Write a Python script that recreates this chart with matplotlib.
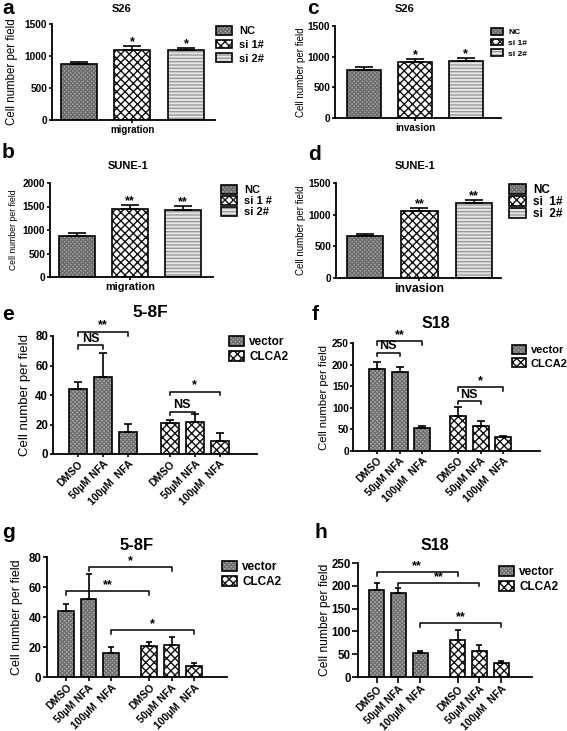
import numpy as np
import matplotlib
matplotlib.use('Agg')
import matplotlib.pyplot as plt

plt.rcParams['font.family'] = ['Liberation Sans', 'DejaVu Sans']
plt.rcParams['font.weight'] = 'bold'
plt.rcParams['hatch.linewidth'] = 1.0

# ---- data ----
a_groups = ['NC', 'si 1#', 'si 2#']
a_mean = [873, 1087, 1087]
a_err = [31, 63, 37]
a_sig = ['', '*', '*']
b_groups = ['NC', 'si 1 #', 'si 2#']
b_mean = [880, 1444, 1430]
b_err = [64, 84, 84]
b_sig = ['', '**', '**']
c_groups = ['NC', 'si 1#', 'si 2#']
c_mean = [785, 920, 937]
c_err = [54, 44, 38]
c_sig = ['', '*', '*']
d_groups = ['NC', 'si  1#', 'si  2#']
d_mean = [658, 1053, 1184]
d_err = [31, 52, 42]
d_sig = ['', '**', '**']

treat = ['DMSO', '50µM NFA', '100µM  NFA']
e_vec = [44, 52.4, 15.1]
e_vec_err = [5, 16.3, 5.2]
e_clca = [20.8, 21.9, 8.8]
e_clca_err = [2.2, 5.1, 5.6]
f_vec = [190, 184, 54]
f_vec_err = [16, 10, 3]
f_clca = [82, 58, 32]
f_clca_err = [20, 12, 2]
g_vec = [43.8, 51.8, 16]
g_vec_err = [5.1, 16.6, 4]
g_clca = [20.4, 21.6, 7.1]
g_clca_err = [2.7, 5.1, 2.5]
h_vec = [190, 185, 53]
h_vec_err = [17, 11, 3.6]
h_clca = [81, 57, 31]
h_clca_err = [22, 13, 3.6]

W, H = 567, 731
fig = plt.figure(figsize=(W / 100, H / 100), dpi=100)


def box(l, t, r, b):
    return fig.add_axes([l / W, 1 - b / H, (r - l) / W, (b - t) / H])


def ftext(x, y, s, **kw):
    fig.text(x / W, 1 - y / H, s, **kw)


NC = dict(color='#a4a4a4', edgecolor='#6c6c6c', hatch='xxxxxxxx')
SI1 = dict(color='white', edgecolor='#111111', hatch='xxxx')
SI2 = dict(color='#e6e6e6', edgecolor='#9a9a9a', hatch='-----')


def hbar(ax, x, v, w, st):
    b1 = ax.bar(x, v, w, linewidth=0, zorder=2, **st)
    b2 = ax.bar(x, v, w, fill=False, edgecolor='black', linewidth=1.2, zorder=3)
    return (b1, b2)


def style(ax, ymax, step, fs, tl):
    for s in ['top', 'right']:
        ax.spines[s].set_visible(False)
    for s in ['left', 'bottom']:
        ax.spines[s].set_linewidth(1.3)
    ax.set_ylim(0, ymax)
    ax.set_yticks(np.arange(0, ymax + 1, step))
    ax.tick_params(direction='out', length=tl, width=1.2, labelsize=fs, pad=1)


def errs(ax, x, v, e, cap):
    ax.errorbar(x, v, yerr=[np.zeros(len(v)), e], fmt='none', ecolor='black',
                elinewidth=1.2, capsize=cap, capthick=1.2, zorder=4)


def top_panel(bx, xlim, ymax, step, groups, mean, err, sig, xl, ylfs, xlfs, leg, legfs,
              lspace, ylx):
    ax = box(*bx)
    x = np.arange(3)
    hs = [hbar(ax, x[i], mean[i], 0.67, st) for i, st in enumerate([NC, SI1, SI2])]
    errs(ax, x, mean, err, 6.5)
    for i in range(3):
        if sig[i]:
            ax.text(x[i], mean[i] + err[i] - ymax * 0.02, sig[i], ha='center', va='bottom',
                    fontsize=9)
    style(ax, ymax, step, 7.3, 2.5)
    ax.set_xlim(*xlim)
    ax.set_xticks([1])
    ax.set_xticklabels([xl], fontsize=xlfs)
    ax.set_ylabel('Cell number per field', fontsize=ylfs)
    w = bx[2] - bx[0]
    ax.yaxis.set_label_coords((ylx - bx[0]) / w, 0.5)
    ax.legend(hs, groups, loc='upper left', bbox_to_anchor=(leg[0] / W, 1 - leg[1] / H),
              bbox_transform=fig.transFigure, frameon=False, borderpad=0,
              handlelength=1.45, handleheight=0.85, labelspacing=lspace, handletextpad=0.6,
              fontsize=legfs, borderaxespad=0)
    return ax


top_panel((52, 24, 215, 120), (-0.5, 2.54), 1500, 500, a_groups, a_mean, a_err, a_sig,
          'migration', 8.3, 7, (216, 26), 8, 0.3, 18)
top_panel((50, 183, 213, 277), (-0.51, 2.57), 2000, 500, b_groups, b_mean, b_err, b_sig,
          'migration', 6.2, 7.8, (221, 185), 8, 0.05, 18)
top_panel((335, 26, 501, 118), (-0.57, 2.69), 1500, 500, c_groups, c_mean, c_err, c_sig,
          'invasion', 7, 7.1, (491, 28), 6, 0.3, 306)
top_panel((336, 183, 501, 278), (-0.53, 2.5), 1500, 500, d_groups, d_mean, d_err, d_sig,
          'invasion', 7, 8.8, (509, 184), 8.5, 0.0, 306)

VEC = dict(color='#adadad', edgecolor='#707070', hatch='xxxxxxxx')
CLC = dict(color='white', edgecolor='#111111', hatch='xxxx')


def bracket(ax, x1, x2, y, s, drop, fs):
    ax.plot([x1, x1, x2, x2], [y - drop, y, y, y - drop], color='black', lw=1.1,
            clip_on=False, zorder=5)
    ax.text((x1 + x2) / 2, y + drop * 0.1, s, ha='center', va='bottom', fontsize=fs)


def low_panel(bx, xlim, ymax, step, gap, width, vec, vec_e, clca, clca_e, brs, cap, leg,
              ylx, ylfs, tl, tfs, legfs):
    ax = box(*bx)
    xv = np.arange(3)
    xc = np.arange(3) + gap
    hv = hbar(ax, xv, vec, width, VEC)
    hc = hbar(ax, xc, clca, width, CLC)
    errs(ax, xv, vec, vec_e, cap)
    errs(ax, xc, clca, clca_e, cap)
    for x1, x2, y, s in brs:
        bracket(ax, x1, x2, y, s, ymax * 0.03, 9)
    style(ax, ymax, step, tfs, tl)
    ax.set_xlim(*xlim)
    ax.set_xticks(np.concatenate([xv, xc]))
    ax.set_xticklabels(treat * 2, rotation=45, ha='right', rotation_mode='anchor', fontsize=7.5)
    ax.set_ylabel('Cell number per field', fontsize=ylfs)
    w = bx[2] - bx[0]
    ax.yaxis.set_label_coords((ylx - bx[0]) / w, 0.5)
    ax.legend([hv, hc], ['vector', 'CLCA2'], loc='upper left',
              bbox_to_anchor=(leg[0] / W, 1 - leg[1] / H), bbox_transform=fig.transFigure,
              frameon=False, borderpad=0, borderaxespad=0, handlelength=1.25,
              handleheight=0.9, labelspacing=0.25, handletextpad=0.45, fontsize=legfs)
    return ax


low_panel((53, 336, 257, 454), (-1.0, 7.16), 80, 20, 3.67, 0.72, e_vec, e_vec_err,
          e_clca, e_clca_err,
          [(0, 2, 82.7, '**'), (0, 1, 73.9, 'NS'), (3.67, 5.67, 42.3, '*'),
           (3.67, 4.67, 28.7, 'NS')], 3, (229, 336), 31, 9.5, 2.5, 8.3, 8.5)
low_panel((353, 343, 540, 451), (-1.07, 7.24), 250, 50, 3.6, 0.71, f_vec, f_vec_err,
          f_clca, f_clca_err,
          [(0, 2, 254, '**'), (0, 1, 228, 'NS'), (3.6, 5.6, 147, '*'),
           (3.6, 4.6, 116, 'NS')], 3, (512, 345), 329, 8.2, 2, 7.3, 8)
low_panel((47, 557, 227, 677), (-0.86, 7.2), 80, 20, 3.72, 0.7, g_vec, g_vec_err,
          g_clca, g_clca_err,
          [(1, 4.72, 73.3, '*'), (0, 3.72, 57.1, '**'), (2, 5.72, 31.1, '*')],
          2.5, (222, 561), 23, 9, 3, 8.3, 8.5)
low_panel((358, 563, 532, 677), (-0.85, 7.14), 250, 50, 3.72, 0.69, h_vec, h_vec_err,
          h_clca, h_clca_err,
          [(0, 3.72, 230, '**'), (1, 4.72, 206, '**'), (2, 5.72, 118, '**')],
          2.5, (499, 566), 331, 8.7, 4, 8.3, 8.5)

# titles and panel letters
ftext(122, 9, 'S26', ha='center', va='center', fontsize=8)
ftext(405, 9, 'S26', ha='center', va='center', fontsize=8)
ftext(128, 166, 'SUNE-1', ha='center', va='center', fontsize=8)
ftext(415, 166, 'SUNE-1', ha='center', va='center', fontsize=8)
ftext(150, 313, '5-8F', ha='center', va='center', fontsize=12.5)
ftext(436, 323, 'S18', ha='center', va='center', fontsize=11.5)
ftext(137, 545, '5-8F', ha='center', va='center', fontsize=12)
ftext(435, 545, 'S18', ha='center', va='center', fontsize=11.5)
for x, y, s in [(2, 9, 'a'), (307, 9, 'c'), (2, 153, 'b'), (308, 154, 'd'),
                (2, 315, 'e'), (312, 315, 'f'), (2, 532, 'g'), (315, 532, 'h')]:
    ftext(x, y, s, ha='left', va='center', fontsize=15)

fig.savefig('out.png', dpi=100)
